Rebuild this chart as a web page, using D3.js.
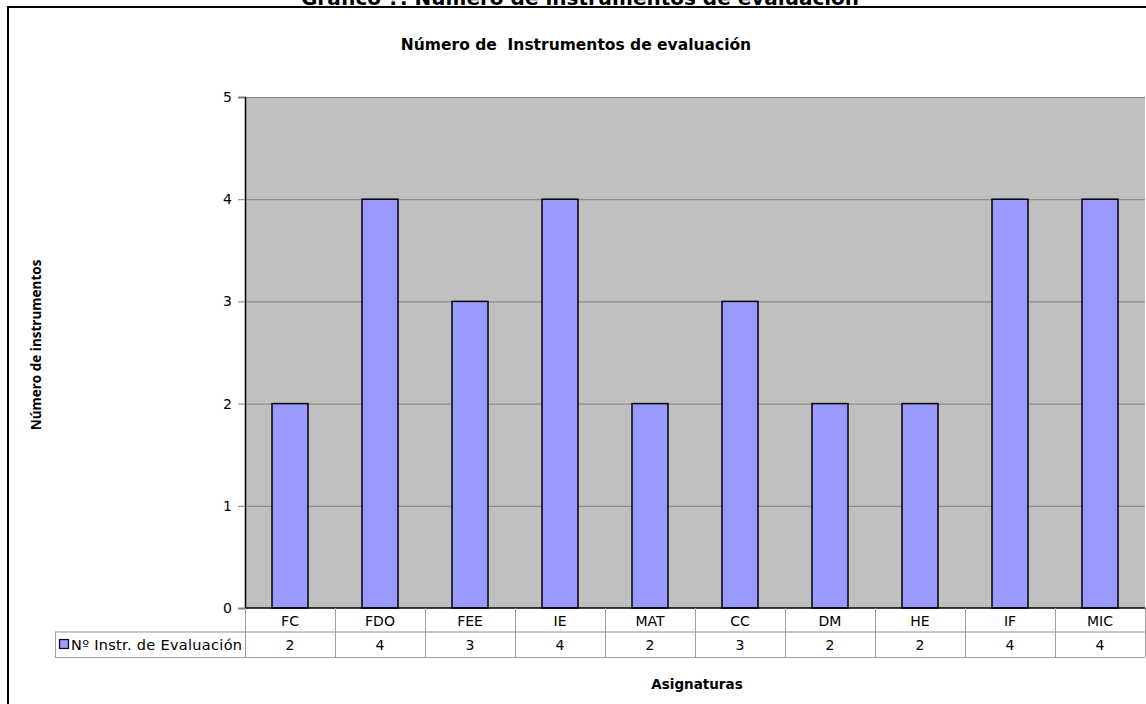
<!DOCTYPE html>
<html><head><meta charset="utf-8">
<script src="https://cdn.jsdelivr.net/npm/d3@7"></script>
<style>body{margin:0;background:#fff;}svg{display:block;}</style>
</head><body>
<svg id="c" width="1146" height="704"></svg>
<script>
const categories = ["FC","FDO","FEE","IE","MAT","CC","DM","HE","IF","MIC"];
const values = [2,4,3,4,2,3,2,2,4,4];
const seriesName = "Nº Instr. de Evaluación";
const yTicks = [0,1,2,3,4,5];
const pageTitle = "Gráfico ?: Número de instrumentos de evaluación";
const chartTitle = "Número de  Instrumentos de evaluación";
const yTitle = "Número de instrumentos";
const xTitle = "Asignaturas";

(function(){
const svg = d3.select("#c");
const F = "'DejaVu Sans', sans-serif";
const pL = 245, pR = 1145, pT = 97, pB = 608;
const x = d3.scaleBand().domain(categories).range([pL, pR]).paddingInner(0).paddingOuter(0);
const y = d3.scaleLinear().domain([0,5]).range([pB, pT]);

// page title (cut off at top, as in the reference)
svg.append("text").attr("x",580).attr("y",5).attr("text-anchor","middle")
  .attr("font-family",F).attr("font-weight","bold").attr("font-size",20).attr("fill","#000").text(pageTitle);
// outer border
svg.append("rect").attr("x",8).attr("y",7).attr("width",1160).attr("height",720)
  .attr("fill","none").attr("stroke","#000").attr("stroke-width",2);

// chart title
svg.append("text").attr("x",576).attr("y",50).attr("text-anchor","middle").style("white-space","pre")
  .attr("font-family",F).attr("font-weight","bold").attr("font-size",15.5).text(chartTitle);

// plot bg
svg.append("rect").attr("x",pL).attr("y",pT).attr("width",pR-pL).attr("height",pB-pT).attr("fill","#c0c0c0");
// gridlines
svg.append("g").selectAll("line").data(yTicks.filter(d=>d>0)).join("line")
  .attr("x1",pL).attr("x2",pR).attr("y1",d=>y(d)+0.5).attr("y2",d=>y(d)+0.5)
  .attr("stroke","#808080").attr("stroke-width",1);

// y axis
const ya = svg.append("g").attr("transform",`translate(${pL},0)`)
  .call(d3.axisLeft(y).tickValues(yTicks).tickSize(7).tickPadding(6).tickFormat(d3.format("d")));
ya.select(".domain").attr("stroke","#000").attr("stroke-width",1.5);
ya.selectAll(".tick line").attr("stroke","#808080");
ya.selectAll("text").attr("font-family",F).attr("font-size",14).attr("fill","#000");

// bars
const bw = x.bandwidth()*0.4;
svg.append("g").selectAll("rect").data(values).join("rect")
  .attr("x",(d,i)=>x(categories[i])+x.bandwidth()/2-bw/2)
  .attr("y",d=>y(d))
  .attr("width",bw)
  .attr("height",d=>y(0)-y(d))
  .attr("fill","#9999ff").attr("stroke","#000").attr("stroke-width",1.5);

// baseline
svg.append("line").attr("x1",pL).attr("x2",pR).attr("y1",pB).attr("y2",pB)
  .attr("stroke","#000").attr("stroke-width",1.5);

// data table
const r1 = pB, r2 = 632, r3 = 657, legL = 55;
const tg = svg.append("g").attr("stroke","#a0a0a0").attr("stroke-width",1);
tg.append("line").attr("x1",legL).attr("x2",pR).attr("y1",r2).attr("y2",r2).attr("stroke","#c8c8c8").attr("stroke-width",2);
tg.append("line").attr("x1",legL).attr("x2",pR).attr("y1",r3+0.5).attr("y2",r3+0.5);
tg.append("line").attr("x1",legL+0.5).attr("x2",legL+0.5).attr("y1",r2).attr("y2",r3);
tg.selectAll("line.v").data(categories.concat(["_end"])).join("line").attr("class","v")
  .attr("x1",(d,i)=>(i<categories.length?x(d):pR)+0.5)
  .attr("x2",(d,i)=>(i<categories.length?x(d):pR)+0.5)
  .attr("y1",r1).attr("y2",r3);

svg.append("g").selectAll("text").data(categories).join("text")
  .attr("x",d=>x(d)+x.bandwidth()/2).attr("y",626).attr("text-anchor","middle")
  .attr("font-family",F).attr("font-size",14).attr("fill","#000").text(d=>d);
svg.append("g").selectAll("text").data(values).join("text")
  .attr("x",(d,i)=>x(categories[i])+x.bandwidth()/2).attr("y",650).attr("text-anchor","middle")
  .attr("font-family",F).attr("font-size",14).attr("fill","#000").text(d=>d);

// legend key
svg.append("rect").attr("x",59.5).attr("y",639.5).attr("width",9).attr("height",9)
  .attr("fill","#9999ff").attr("stroke","#000").attr("stroke-width",1.2);
svg.append("text").attr("x",71).attr("y",650).attr("font-family",F).attr("font-size",14.5)
  .attr("textLength",171).attr("fill","#000").text(seriesName);

// axis titles
svg.append("text").attr("transform","translate(41,345) rotate(-90)").attr("text-anchor","middle")
  .attr("font-family","'Open Sans', sans-serif").attr("font-weight","bold").attr("font-size",13.5).text(yTitle);
svg.append("text").attr("x",697).attr("y",689).attr("text-anchor","middle")
  .attr("font-family",F).attr("font-weight","bold").attr("font-size",13.5).text(xTitle);
})();
</script>
</body></html>
